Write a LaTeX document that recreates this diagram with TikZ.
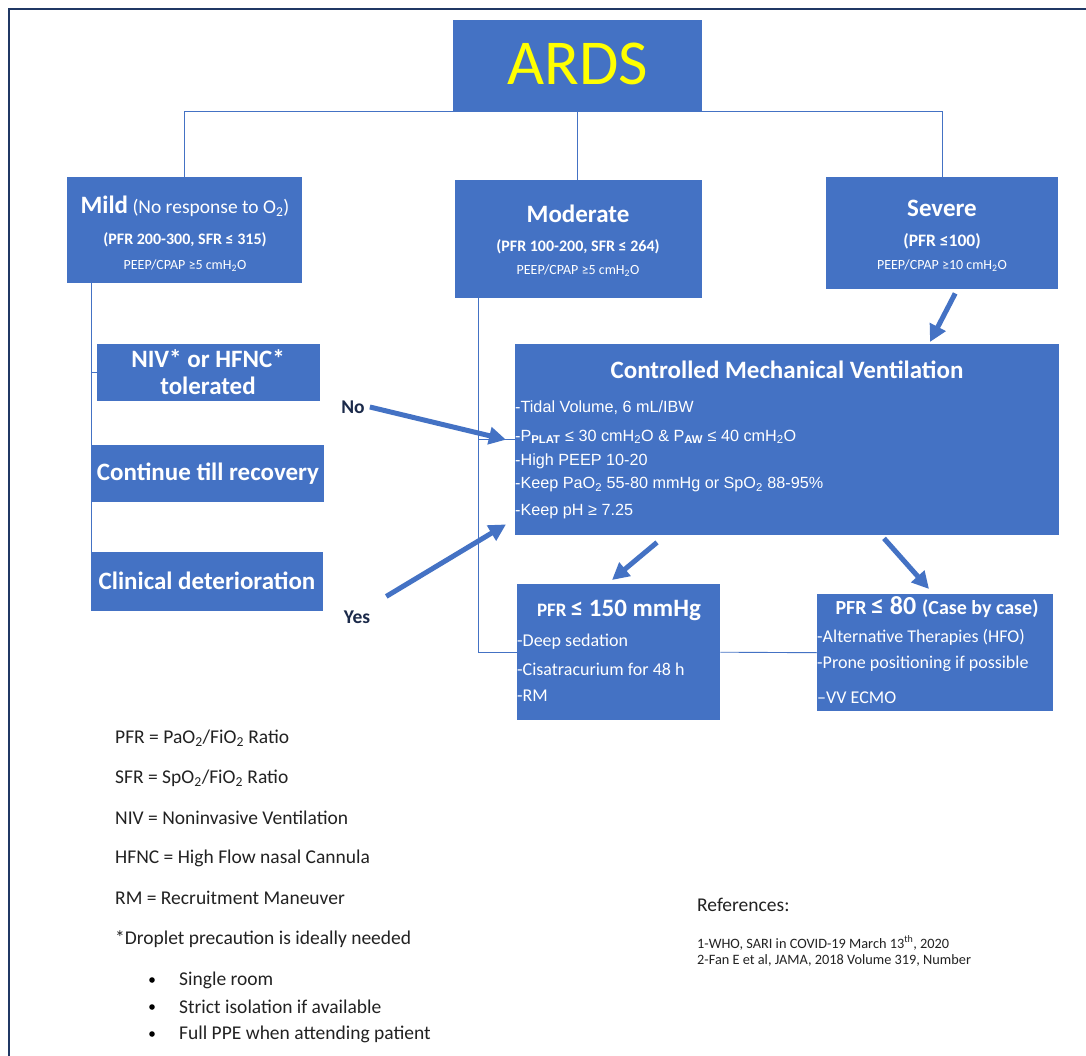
\documentclass[tikz,border=0pt]{standalone}
\usepackage{fontspec}
\setmainfont{Carlito}
\newfontfamily\arialf{Liberation Sans}
\usetikzlibrary{arrows.meta}
\definecolor{boxblue}{HTML}{4472C4}
\definecolor{framenavy}{HTML}{203864}
\definecolor{labnavy}{HTML}{1B2A4A}
\definecolor{legtext}{HTML}{222222}
\newcommand{\fs}[1]{\fontsize{#1}{#1}\selectfont}
\newcommand{\sbs}[1]{\textsubscript{#1}}
\begin{document}
\begin{tikzpicture}[x=1pt,y=-1pt,
  bx/.style={fill=boxblue,draw=none,inner sep=0pt,anchor=north west},
  wt/.style={text=white,inner sep=0pt},
  conn/.style={draw=boxblue,line width=0.9pt},
  fat/.style={draw=boxblue,line width=5pt,-{Triangle[length=17pt,width=17pt]}},
  leg/.style={text=legtext,inner sep=0pt,anchor=west,font=\fs{19.5}},
  cmvt/.style={text=white,inner sep=0pt,anchor=west,font=\arialf\fs{16.2}},
  itm/.style={text=white,inner sep=0pt,anchor=west,font=\fs{18}},
  yn/.style={text=labnavy,inner sep=0pt,font=\bfseries\fs{19.5}}]
\useasboundingbox (0,0) rectangle (1086,1056);
\fill[white] (0,0) rectangle (1086,1056);
\draw[framenavy,line width=2pt] (9,1056) -- (9,9) -- (1086,9);

% boxes
\node[bx,minimum width=249pt,minimum height=91pt] (ards) at (453,20) {};
\node[bx,minimum width=235pt,minimum height=106pt] (mild) at (67,177) {};
\node[bx,minimum width=247pt,minimum height=118pt] (moderate) at (455,180) {};
\node[bx,minimum width=232pt,minimum height=112pt] (severe) at (826,177) {};
\node[bx,minimum width=223pt,minimum height=57pt] (niv) at (97,344) {};
\node[bx,minimum width=232pt,minimum height=57pt] (cont) at (92,445) {};
\node[bx,minimum width=232pt,minimum height=59pt] (clin) at (91,552) {};
\node[bx,minimum width=544pt,minimum height=191pt] (cmv) at (515,344) {};
\node[bx,minimum width=203pt,minimum height=136pt] (pfra) at (517,584) {};
\node[bx,minimum width=236pt,minimum height=117pt] (pfrb) at (817,594) {};

% connectors
\draw[conn] (mild.north) |- (ards.south);
\draw[conn] (severe.north) |- (ards.south);
\draw[conn] (ards.south) -- (ards.south |- moderate.north);
\draw[conn] ([xshift=24pt]mild.south west) -- (clin.north west);
\draw[conn] (niv.west) -- ++(-6,0);
\draw[conn] (pfra.west) -| ([xshift=23pt]moderate.south west);
\draw[conn] (pfra.east) -- (pfrb.west);
\draw[conn] (cmv.west) -- ++(-37,0);

% texts in boxes
\node[inner sep=0pt,text={rgb,255:red,255;green,255;blue,0}] (ardst) at (578,64) {\fs{64}ARDS};

\node[wt] (mild1) at (185,206) {\bfseries\fs{25}Mild\mdseries\fs{19.5} (No response to O\sbs{2})};
\node[wt] (mild2) at (185,240) {\bfseries\fs{16}(PFR 200-300, SFR ≤ 315)};
\node[wt] (mild3) at (185,266) {\fs{14}PEEP/CPAP ≥5 cmH\sbs{2}O};

\node[wt] (mod1) at (578,214) {\bfseries\fs{25}Moderate};
\node[wt] (mod2) at (578,247) {\bfseries\fs{16}(PFR 100-200, SFR ≤ 264)};
\node[wt] (mod3) at (578,271) {\fs{14}PEEP/CPAP ≥5 cmH\sbs{2}O};

\node[wt] (sev1) at (942,208) {\bfseries\fs{25}Severe};
\node[wt] (sev2) at (942,241) {\bfseries\fs{17.5}(PFR ≤100)};
\node[wt] (sev3) at (942,266) {\fs{14}PEEP/CPAP ≥10 cmH\sbs{2}O};

\node[wt,align=center,font=\bfseries\fontsize{25}{27}\selectfont] (nivt) at (208,372) {NIV* or HFNC*\\tolerated};
\node[wt] (contt) at (208,474) {\bfseries\fs{25}Continue till recovery};
\node[wt] (clint) at (207,581) {\bfseries\fs{25}Clinical deterioration};

\node[wt] (cmvtitle) at (787,370) {\bfseries\fs{25}Controlled Mechanical Ventilation};
\node[cmvt] (c1) at (515,408) {-Tidal Volume, 6 mL/IBW};
\node[cmvt] (c2) at (515,437) {-P\sbs{\textbf{PLAT}} ≤ 30 cmH\sbs{2}O \& P\sbs{\textbf{AW}} ≤ 40 cmH\sbs{2}O};
\node[cmvt] (c3) at (515,461) {-High PEEP 10-20};
\node[cmvt] (c4) at (515,485) {-Keep PaO\sbs{2} 55-80 mmHg or SpO\sbs{2} 88-95\%};
\node[cmvt] (c5) at (515,512) {-Keep pH ≥ 7.25};

\node[wt] (pfrat) at (619,610) {\bfseries\fs{19}PFR \fs{25}≤ 150 mmHg};
\node[itm] (a1) at (517,642) {-Deep sedation};
\node[itm] (a2) at (517,669) {-Cisatracurium for 48 h};
\node[itm] (a3) at (517,696) {-RM};

\node[wt] (pfrbt) at (937,607) {\bfseries\fs{20}PFR \fs{26}≤ 80 \fs{20}(Case by case)};
\node[itm] (b1) at (817,637) {-Alternative Therapies (HFO)};
\node[itm] (b2) at (817,664) {-Prone positioning if possible};
\node[itm] (b3) at (817,698) {–VV ECMO};

% yes / no
\node[yn] (no) at (353,407) {No};
\node[yn] (yes) at (357,617) {Yes};

% fat arrows
\draw[fat] ([shift={(13,4)}]severe.south) -- ([shift={(415,-2)}]cmv.north west);
\draw[fat] ([shift={(5,0)}]no.east) -- ([shift={(-9,0)}]cmv.west);
\draw[fat] ([shift={(16,-14)}]yes.north east) -- ([shift={(-9,-11)}]cmv.south west);
\draw[fat] ([shift={(142,7)}]cmv.south west) -- ([shift={(95,-4)}]pfra.north west);
\draw[fat] ([shift={(369,3)}]cmv.south west) -- ([shift={(112,-5)}]pfrb.north west);

% legend
\node[leg] (l1) at (115,738) {PFR = PaO\sbs{2}/FiO\sbs{2} Ratio};
\node[leg] (l2) at (115,778) {SFR = SpO\sbs{2}/FiO\sbs{2} Ratio};
\node[leg] (l3) at (115,818) {NIV = Noninvasive Ventilation};
\node[leg] (l4) at (115,858) {HFNC = High Flow nasal Cannula};
\node[leg] (l5) at (115,898) {RM = Recruitment Maneuver};
\node[leg] (l6) at (115,939) {*Droplet precaution is ideally needed};
\foreach \yy/\tt/\nm in {980/Single room/d1,1007/Strict isolation if available/d2,1034/Full PPE when attending patient/d3}{
  \fill[black] (152,\yy) circle (2.8pt);
  \node[leg] (\nm) at (179,\yy) {\tt};
}
\node[leg] (refs) at (697,905) {References:};
\node[leg,font=\fs{14.3}] (r1) at (697,943) {1-WHO, SARI in COVID-19 March 13\textsuperscript{th}, 2020};
\node[leg,font=\fs{14.3}] (r2) at (697,960) {2-Fan E et al, JAMA, 2018 Volume 319, Number};
\end{tikzpicture}
\end{document}
